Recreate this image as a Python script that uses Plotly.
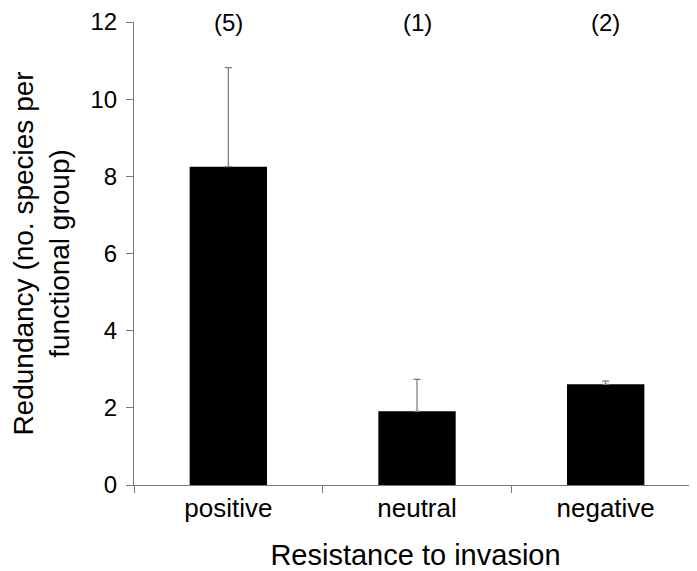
import plotly.graph_objects as go

categories = ["positive", "neutral", "negative"]
redundancy = [8.25, 1.91, 2.61]
error_up = [2.57, 0.83, 0.08]
group_counts = ["(5)", "(1)", "(2)"]
y_ticks = [0, 2, 4, 6, 8, 10, 12]

FONT = "Arial, Liberation Sans, sans-serif"
GRAY = "#7a7a7a"

fig = go.Figure()
fig.add_trace(go.Bar(
    x=categories,
    y=redundancy,
    width=0.41,
    marker=dict(color="black", line=dict(color="black", width=0)),
    error_y=dict(type="data", symmetric=False, array=error_up,
                 arrayminus=[0] * len(error_up),
                 color=GRAY, thickness=1.2, width=3.5),
    showlegend=False,
))

for c, t in zip(categories, group_counts):
    fig.add_annotation(x=c, y=12, xref="x", yref="y", text=t, showarrow=False,
                       yanchor="middle", font=dict(family=FONT, size=24, color="black"))

# the page body adds an 8px margin, so the figure is sized to end at the window edge
fig.update_layout(
    width=689, height=563,
    margin=dict(l=126, r=0, t=14, b=86, autoexpand=False),
    paper_bgcolor="white", plot_bgcolor="white",
    font=dict(family=FONT, color="black"),
    bargap=0.59,
)
fig.update_xaxes(
    type="category",
    range=[-0.5, 2.484],
    automargin=False,
    showline=True, linecolor=GRAY, linewidth=1.2,
    ticks="outside", tickson="boundaries", ticklen=7, tickcolor=GRAY, tickwidth=1,
    tickfont=dict(family=FONT, size=26, color="black"),
    showgrid=False, zeroline=False,
    title=dict(text="Resistance to invasion", font=dict(family=FONT, size=29, color="black"), standoff=22),
)
fig.update_yaxes(
    range=[0, 12],
    tickvals=y_ticks,
    automargin=False,
    showline=True, linecolor=GRAY, linewidth=1.2,
    ticks="outside", ticklen=7, tickcolor=GRAY, tickwidth=1,
    ticklabelstandoff=4,
    tickfont=dict(family=FONT, size=24, color="black"),
    showgrid=False, zeroline=False,
    title=dict(text="Redundancy (no. species per<br>functional group)",
               font=dict(family=FONT, size=28, color="black"), standoff=12),
)

fig.write_html("out.html")
